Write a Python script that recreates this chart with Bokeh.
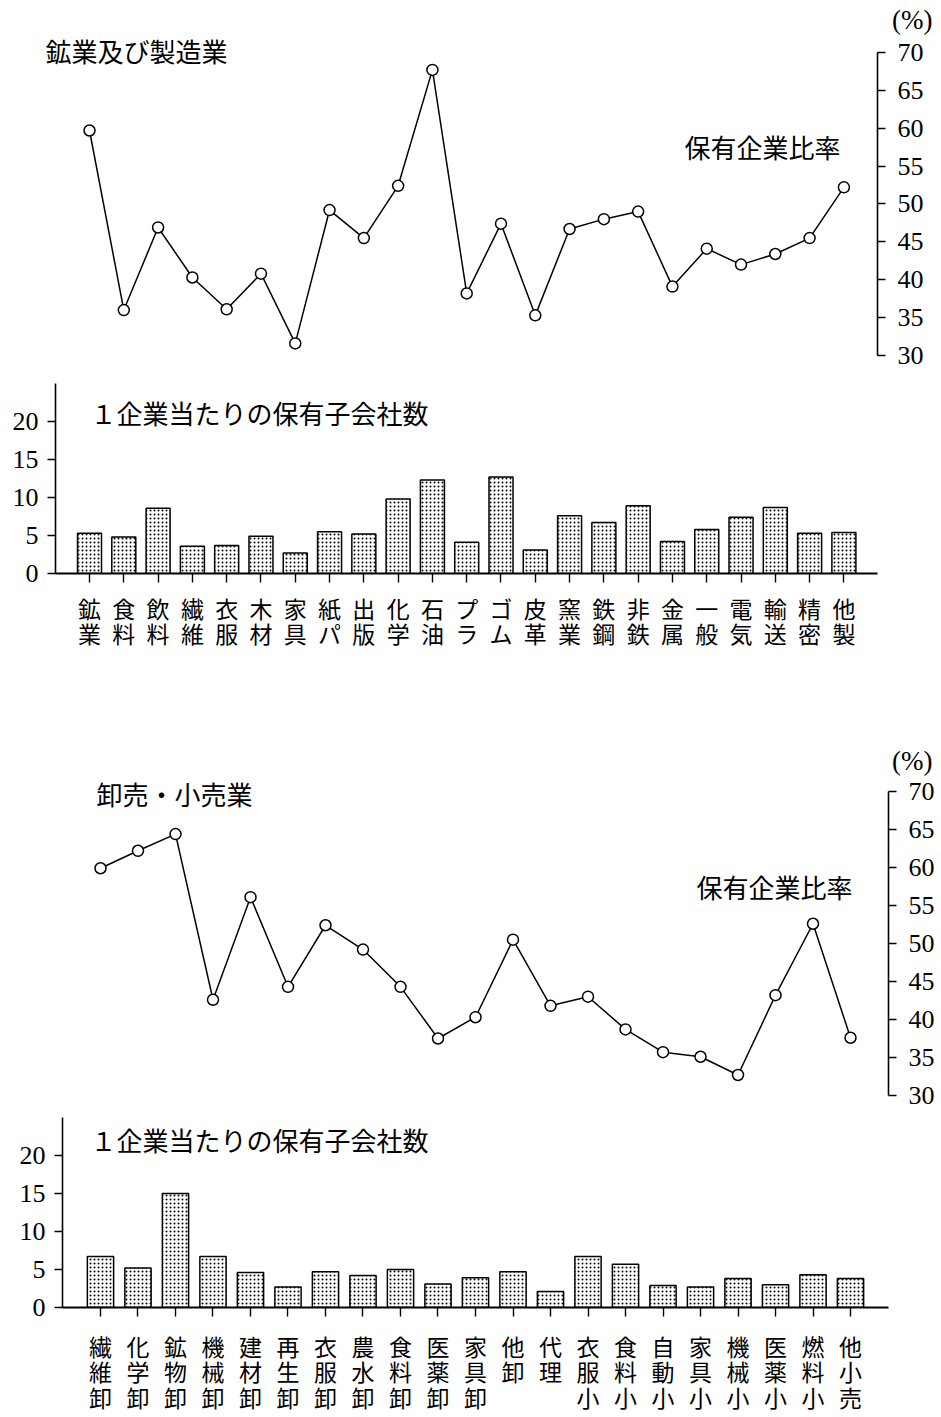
from bokeh.plotting import figure
from bokeh.layouts import column
from bokeh.models import Range1d, FixedTicker, Label, Title
from bokeh.embed import file_html
from bokeh.resources import INLINE

# ---------------- data ----------------
mfg_labels = ["鉱業", "食料", "飲料", "繊維", "衣服", "木材", "家具", "紙パ", "出版", "化学",
              "石油", "プラ", "ゴム", "皮革", "窯業", "鉄鋼", "非鉄", "金属", "一般", "電気",
              "輸送", "精密", "他製"]
mfg_ratio = [59.7, 36.0, 46.9, 40.3, 36.1, 40.8, 31.6, 49.2, 45.5, 52.4,
             67.7, 38.2, 47.4, 35.3, 46.7, 48.0, 49.0, 39.1, 44.1, 42.0,
             43.4, 45.5, 52.2]
mfg_subs = [5.3, 4.8, 8.6, 3.6, 3.7, 4.9, 2.7, 5.5, 5.2, 9.8,
            12.3, 4.1, 12.7, 3.1, 7.6, 6.7, 8.9, 4.2, 5.8, 7.4,
            8.7, 5.3, 5.4]

ret_labels = ["繊維卸", "化学卸", "鉱物卸", "機械卸", "建材卸", "再生卸", "衣服卸", "農水卸",
              "食料卸", "医薬卸", "家具卸", "他卸", "代理", "衣服小", "食料小", "自動小",
              "家具小", "機械小", "医薬小", "燃料小", "他小売"]
ret_ratio = [59.9, 62.2, 64.4, 42.6, 56.1, 44.3, 52.4, 49.2, 44.3, 37.5,
             40.3, 50.5, 41.8, 43.0, 38.7, 35.7, 35.1, 32.7, 43.2, 52.6, 37.6]
ret_subs = [6.7, 5.2, 15.0, 6.7, 4.6, 2.7, 4.7, 4.2, 5.0, 3.1,
            3.9, 4.7, 2.1, 6.7, 5.7, 2.9, 2.7, 3.8, 3.0, 4.3, 3.8]

pct_ticks = [30, 35, 40, 45, 50, 55, 60, 65, 70]
sub_ticks = [0, 5, 10, 15, 20]

title_mfg = "鉱業及び製造業"
title_ret = "卸売・小売業"
ratio_label = "保有企業比率"
subs_label = "１企業当たりの保有子会社数"
pct_unit = "(%)"

JP = "Noto Sans CJK JP"
NUM = "Liberation Serif"
W = 940


def base_fig(height, xr, yr, bl, br, bt, bb, xloc, yloc):
    p = figure(width=W, height=height, x_range=xr, y_range=yr,
               output_backend="svg", toolbar_location=None, title=None,
               x_axis_location=xloc, y_axis_location=yloc,
               min_border_left=bl, min_border_right=br,
               min_border_top=bt, min_border_bottom=bb)
    p.frame_align = False
    p.grid.visible = False
    p.outline_line_color = None
    p.background_fill_color = "white"
    p.border_fill_color = "white"
    return p


def style_num_axis(ax, ticks, standoff):
    ax.ticker = FixedTicker(ticks=ticks)
    ax.axis_line_width = 1.6
    ax.axis_line_color = "black"
    ax.major_tick_in = 0
    ax.major_tick_out = 8
    ax.major_tick_line_width = 1.5
    ax.minor_tick_in = 0
    ax.minor_tick_out = 0
    ax.major_label_text_font = NUM
    ax.major_label_text_font_size = "26px"
    ax.major_label_text_color = "black"
    ax.major_label_standoff = standoff


def line_fig(labels, values, height, xr, y_top, bl, br, bt, bb):
    p = base_fig(height, xr, Range1d(30, y_top), bl, br, bt, bb, None, "right")
    ax = p.yaxis[0]
    style_num_axis(ax, pct_ticks, 12)
    ax.bounds = (30, 70)
    xs = list(range(len(labels)))
    p.line(xs, values, line_color="black", line_width=1.5)
    p.scatter(xs, values, size=11, fill_color="white", line_color="black", line_width=1.5)
    return p


def bar_fig(labels, values, height, xr, bl, br, bt, bb, standoff):
    p = base_fig(height, xr, Range1d(0, 25), bl, br, bt, bb, "below", "left")
    style_num_axis(p.yaxis[0], sub_ticks, 9)
    xs = list(range(len(labels)))
    p.vbar(x=xs, top=values, width=0.7, fill_color="white", line_color="black",
           line_width=1.5, hatch_pattern="dot", hatch_color="black",
           hatch_scale=4, hatch_weight=1.7)
    ax = p.xaxis[0]
    ax.ticker = FixedTicker(ticks=xs)
    ax.major_label_overrides = {i: "\n".join(lbl) for i, lbl in zip(xs, labels)}
    ax.axis_line_width = 2
    ax.major_tick_in = 0
    ax.major_tick_out = 9
    ax.major_tick_line_width = 1.4
    ax.minor_tick_in = 0
    ax.minor_tick_out = 0
    ax.major_label_text_font = JP
    ax.major_label_text_font_size = "23px"
    ax.major_label_text_line_height = 0.76
    ax.major_label_text_color = "black"
    ax.major_label_standoff = standoff
    return p


def jp_label(p, x, y, text, align):
    p.add_layout(Label(x=x, y=y, text=text, text_font=JP, text_font_size="26px",
                       text_align=align, text_baseline="middle", text_color="black"))


def unit_title(p, offset, standoff):
    p.add_layout(Title(text=pct_unit, align="right", offset=offset, standoff=standoff,
                       text_font=NUM, text_font_size="27px", text_font_style="normal",
                       text_color="black"), "above")


# ---------------- manufacturing ----------------
p1 = line_fig(mfg_labels, mfg_ratio, 380, Range1d(-2.596, 22.98), 72.11, 0, 63, 36, 25)
jp_label(p1, -1.284, 70.26, title_mfg, "left")
jp_label(p1, 21.90, 57.6, ratio_label, "right")
unit_title(p1, -55, 3)

p2 = bar_fig(mfg_labels, mfg_subs, 320, Range1d(-0.992, 22.98), 55, 63, 3, 127, 8)
jp_label(p2, 0.029, 21.2, subs_label, "left")

# ---------------- wholesale / retail ----------------
p3 = line_fig(ret_labels, ret_ratio, 413, Range1d(-2.667, 21.013), 71.58, 0, 52, 79, 18)
jp_label(p3, -0.107, 69.7, title_ret, "left")
jp_label(p3, 20.053, 57.5, ratio_label, "right")
unit_title(p3, -44, 7)

p4 = bar_fig(ret_labels, ret_subs, 304, Range1d(-1.013, 21.013), 62, 52, 4, 110, 12)
jp_label(p4, -0.266, 22.1, subs_label, "left")

layout = column(p1, p2, p3, p4, spacing=0)
open("out.html", "w").write(file_html(layout, INLINE))
